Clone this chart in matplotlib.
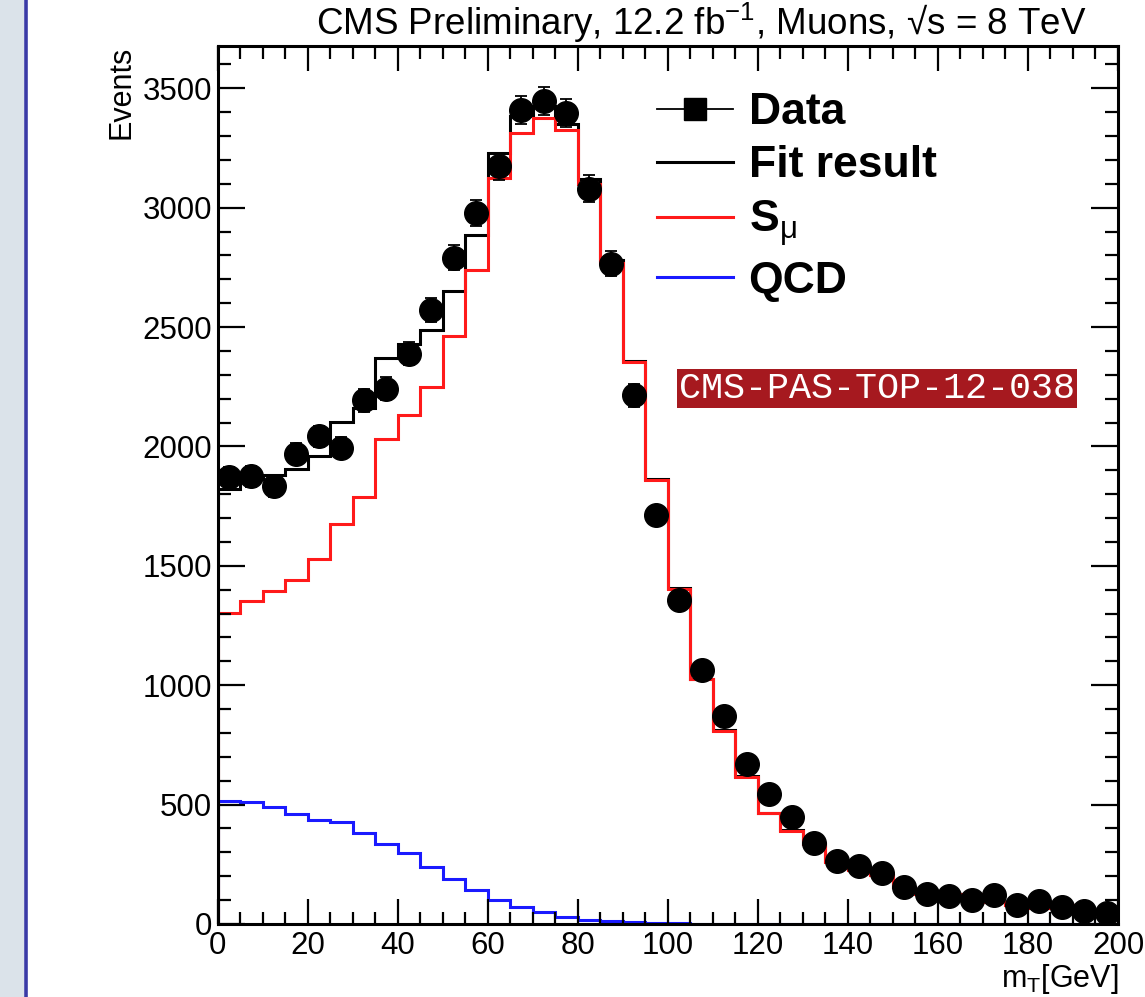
"""
Transverse mass fit, muon channel: data vs. fit result with its
signal (S_mu) and QCD components, drawn in the ROOT style.
"""

import numpy as np
import matplotlib
matplotlib.use("Agg")
import matplotlib.pyplot as plt
from matplotlib.lines import Line2D
from matplotlib.patches import Rectangle
from matplotlib.ticker import MultipleLocator

# ----------------------------------------------------------------------
# Data, 5 GeV bins from 0 to 200 GeV
# ----------------------------------------------------------------------
BIN_EDGES = np.arange(0, 205, 5)

DATA = [1872, 1875, 1833, 1970, 2042, 1995, 2193, 2242, 2389, 2573,
        2791, 2978, 3174, 3409, 3448, 3397, 3080, 2766, 2214, 1711,
        1355, 1062, 873, 668, 545, 447, 338, 262, 242, 212,
        155, 127, 116, 100, 120, 80, 96, 70, 55, 48]

FIT_RESULT = [1823, 1862, 1882, 1905, 1960, 2102, 2163, 2372, 2429, 2487,
              2652, 2887, 3227, 3385, 3426, 3350, 3119, 2781, 2358, 1862,
              1408, 1026, 811, 618, 465, 392, 336, 262, 229, 205,
              154, 128, 118, 127, 92, 79, 69, 80, 53, 48]

SIGNAL = [1302, 1352, 1393, 1442, 1528, 1674, 1788, 2033, 2130, 2249,
          2461, 2741, 3125, 3311, 3374, 3325, 3101, 2769, 2352, 1860,
          1405, 1024, 810, 617, 464, 391, 335, 261, 228, 204,
          153, 127, 118, 127, 92, 79, 69, 80, 53, 48]

QCD = [517, 510, 492, 461, 436, 426, 380, 335, 297, 237,
       189, 142, 102, 73, 52, 28, 18, 12, 8, 5,
       3, 2, 1, 1, 1, 0, 0, 0, 0, 0,
       0, 0, 0, 0, 0, 0, 0, 0, 0, 0]

LABELS = ["Data", "Fit result", r"S$_{\mathrm{\mu}}$", "QCD"]
TITLE = "CMS Preliminary, 12.2 fb$^{-1}$, Muons, \u221as = 8 TeV"
XLABEL = r"m$_{\mathrm{T}}$[GeV]"
YLABEL = "Events"
TAG = "CMS-PAS-TOP-12-038"

# ----------------------------------------------------------------------
# Style
# ----------------------------------------------------------------------
plt.rcParams["font.family"] = ["Liberation Sans", "DejaVu Sans"]
plt.rcParams["mathtext.fontset"] = "custom"
plt.rcParams["mathtext.rm"] = "Liberation Sans"
plt.rcParams["mathtext.it"] = "Liberation Sans:italic"
plt.rcParams["mathtext.bf"] = "Liberation Sans:bold"

TICK_FONTSIZE = 22.5
HIST_LW = 2.2
RED = "#ff1a1a"
BLUE = "#1a1aff"


def main():
    fig = plt.figure(figsize=(11.45, 9.97), dpi=100)

    # blurry slide background and border on the far left
    fig.patches.append(Rectangle((0, 0), 24 / 1145., 1, transform=fig.transFigure,
                                 facecolor="#dbe3ea", edgecolor="none"))
    fig.lines.append(Line2D([26 / 1145., 26 / 1145.], [0, 1], transform=fig.transFigure,
                            color="#3a3aa6", lw=2.6))

    ax = fig.add_axes([0.18996, 0.07322, 0.78646, 0.88064])

    centers = 0.5 * (BIN_EDGES[:-1] + BIN_EDGES[1:])
    data = np.array(DATA, dtype=float)

    ax.stairs(FIT_RESULT, BIN_EDGES, baseline=0, color="black", lw=HIST_LW)
    ax.stairs(SIGNAL, BIN_EDGES, baseline=0, color=RED, lw=HIST_LW)
    ax.stairs(QCD, BIN_EDGES, baseline=0, color=BLUE, lw=HIST_LW)
    ax.errorbar(centers, data, yerr=np.sqrt(data), fmt="o", color="black",
                markersize=17, elinewidth=1.3, capsize=4, capthick=1.3, zorder=5)

    ax.set_xlim(0, 200)
    ax.set_ylim(0, 3677)

    ax.xaxis.set_major_locator(MultipleLocator(20))
    ax.xaxis.set_minor_locator(MultipleLocator(5))
    ax.yaxis.set_major_locator(MultipleLocator(500))
    ax.yaxis.set_minor_locator(MultipleLocator(100))
    ax.tick_params(which="both", direction="in", top=True, right=True,
                   width=1.6, labelsize=TICK_FONTSIZE, color="black")
    ax.tick_params(axis="y", which="major", length=19.5, pad=4)
    ax.tick_params(axis="y", which="minor", length=9.5)
    ax.tick_params(axis="x", which="major", length=18, pad=5)
    ax.tick_params(axis="x", which="minor", length=9)
    for spine in ax.spines.values():
        spine.set_linewidth(2.2)

    ax.set_ylabel(YLABEL, fontsize=22, loc="top")
    ax.yaxis.set_label_coords(-0.09, 1.0)
    ax.set_xlabel(XLABEL, fontsize=22, loc="right")
    ax.xaxis.set_label_coords(1.0, -0.043)

    # legend, ROOT like: no frame, bold labels
    handles = [Line2D([], [], color="black", marker="s", markersize=16, lw=1.3),
               Line2D([], [], color="black", lw=2.2),
               Line2D([], [], color=RED, lw=2.2),
               Line2D([], [], color=BLUE, lw=2.2)]
    fig.legend(handles, LABELS, loc="upper left", bbox_to_anchor=(657 / 1145., 0.9075),
               frameon=False, borderpad=0, borderaxespad=0, handlelength=1.7,
               handletextpad=0.36, labelspacing=0.27,
               prop={"family": "Liberation Sans", "weight": "bold", "size": 32})

    fig.text(0.766, 0.6103, TAG, ha="center", va="center", color="white",
             fontsize=26.5, family=["Liberation Mono", "DejaVu Sans Mono"],
             bbox=dict(facecolor="#a6191f", edgecolor="none", pad=1.5))

    fig.text(0.6127, 0.9645, TITLE, ha="center", va="baseline", fontsize=26.5)

    fig.savefig("out.png", dpi=100)


if __name__ == "__main__":
    main()
